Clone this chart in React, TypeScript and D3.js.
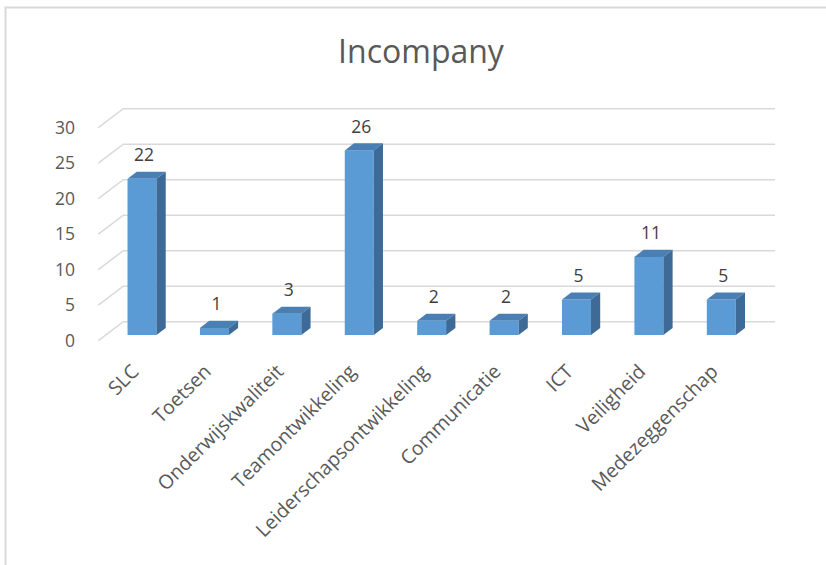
import React from 'react';
import * as d3 from 'd3';

const title = 'Incompany';
const categories = ['SLC', 'Toetsen', 'Onderwijskwaliteit', 'Teamontwikkeling', 'Leiderschapsontwikkeling', 'Communicatie', 'ICT', 'Veiligheid', 'Medezeggenschap'];
const values = [22, 1, 3, 26, 2, 2, 5, 11, 5];
const yTicks = [0, 5, 10, 15, 20, 25, 30];

const W = 826;
const H = 565;
const FONT = "'Open Sans', sans-serif";

export default function App() {
  const DX = 25;
  const DY = -19;
  const t1 = 0.3;
  const dd = 0.37;
  const x = d3.scaleBand<string>().domain(categories).range([98.3, 750]).paddingInner(0.6).paddingOuter(0.3);
  const y = d3.scaleLinear().domain([0, 30]).range([340.7, 127.7]);
  const bw = x.bandwidth();
  const backRight = 775;

  return (
    <svg width={W} height={H} style={{ position: 'absolute', left: 0, top: 0, background: '#fff' }}>
      <rect x={0} y={0} width={W} height={H} fill="#fff" />
      <path d={`M5.5,${H} L5.5,7.5 L${W},7.5`} fill="none" stroke="#d9d9d9" strokeWidth={2} />
      <text x={421} y={63} textAnchor="middle" fontFamily={FONT} fontSize={32} fill="#595959">{title}</text>
      {yTicks.map((t) => (
        <g key={t}>
          <path
            d={`M${98.3},${y(t)} L${98.3 + DX},${y(t) + DY} L${backRight},${y(t) + DY}`}
            fill="none"
            stroke="#d9d9d9"
            strokeWidth={1.5}
          />
          <text x={75} y={y(t)} dy="0.35em" textAnchor="end" fontFamily={FONT} fontSize={17.5} fill="#595959">{t}</text>
        </g>
      ))}
      {categories.map((c, i) => {
        const v = values[i];
        const x0 = (x(c) as number) + t1 * DX;
        const yt = y(v) + t1 * DY;
        const yb = y(0) + t1 * DY;
        const ox = dd * DX;
        const oy = dd * DY;
        const cx = x0 + bw / 2;
        return (
          <g key={c}>
            <rect x={x0} y={yt} width={bw} height={yb - yt} fill="#5b9bd5" />
            <polygon points={`${x0},${yt} ${x0 + bw},${yt} ${x0 + bw + ox},${yt + oy} ${x0 + ox},${yt + oy}`} fill="#4a7fb4" />
            <polygon points={`${x0 + bw},${yt} ${x0 + bw + ox},${yt + oy} ${x0 + bw + ox},${yb + oy} ${x0 + bw},${yb}`} fill="#3d6a96" />
            <text x={cx + 2} y={yt - 17.6} textAnchor="middle" fontFamily={FONT} fontSize={17.5} fill="#404040">{v}</text>
            <text
              transform={`translate(${cx - 7},368) rotate(-45)`}
              dy="0.35em"
              textAnchor="end"
              fontFamily={FONT}
              fontSize={19.5}
              fill="#595959"
            >{c}</text>
          </g>
        );
      })}
    </svg>
  );
}
